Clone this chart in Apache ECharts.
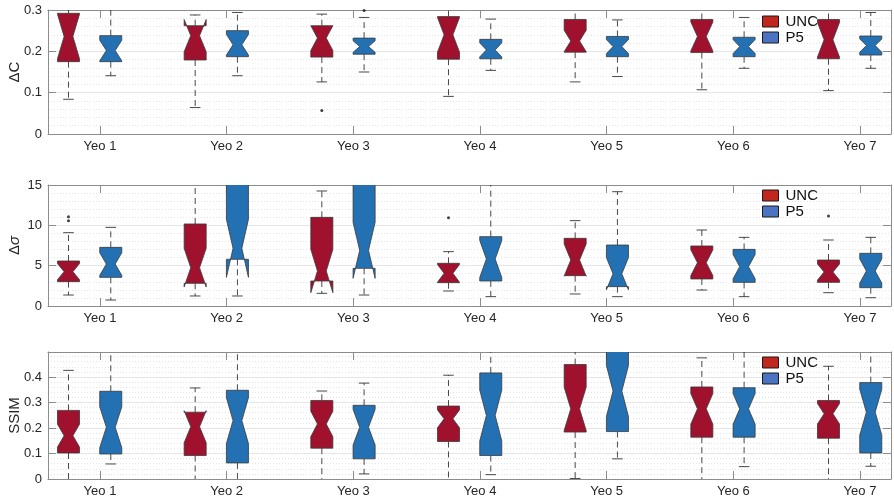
<!DOCTYPE html>
<html>
<head>
<meta charset="utf-8">
<script src="https://cdn.jsdelivr.net/npm/echarts@6/dist/echarts.min.js"></script>
<style>
  html, body { margin: 0; padding: 0; background: #fff; }
  #chart { width: 894px; height: 500px; }
</style>
</head>
<body>
<div id="chart"></div>
<script>
// Network labels along every x axis
const yeoNames = ['Yeo 1', 'Yeo 2', 'Yeo 3', 'Yeo 4', 'Yeo 5', 'Yeo 6', 'Yeo 7'];
const groupNames = ['UNC', 'P5'];

// Box statistics per network, one row each:
// [lower whisker, Q1, median, Q3, upper whisker, notch half-width]
const deltaC_UNC = [
  [0.084, 0.175, 0.236, 0.292, 0.310, 0.054],
  [0.064, 0.179, 0.238, 0.262, 0.288, 0.039],
  [0.126, 0.186, 0.232, 0.262, 0.290, 0.030],
  [0.091, 0.181, 0.240, 0.284, 0.310, 0.042],
  [0.126, 0.198, 0.225, 0.277, 0.305, 0.026],
  [0.107, 0.197, 0.236, 0.277, 0.310, 0.035],
  [0.105, 0.182, 0.228, 0.277, 0.310, 0.042]
];
const deltaC_P5 = [
  [0.141, 0.175, 0.202, 0.238, 0.310, 0.025],
  [0.141, 0.187, 0.216, 0.250, 0.294, 0.025],
  [0.150, 0.193, 0.2115, 0.232, 0.282, 0.014],
  [0.154, 0.182, 0.2035, 0.229, 0.278, 0.017],
  [0.139, 0.187, 0.2115, 0.236, 0.276, 0.017],
  [0.159, 0.187, 0.2115, 0.234, 0.282, 0.017],
  [0.159, 0.191, 0.214, 0.237, 0.294, 0.016]
];
const deltaSigma_UNC = [
  [1.36, 3.02, 4.26, 5.58, 9.09, 1.0],
  [1.24, 2.81, 4.75, 10.17, 16.0, 2.4],
  [1.57, 3.10, 4.34, 10.99, 14.26, 2.69],
  [1.86, 2.89, 4.05, 5.29, 6.74, 1.1],
  [1.49, 3.76, 5.70, 8.39, 10.58, 2.0],
  [1.98, 3.35, 5.37, 7.44, 9.42, 1.6],
  [1.65, 2.93, 4.21, 5.70, 8.18, 1.0]
];
const deltaSigma_P5 = [
  [0.74, 3.55, 5.20, 7.27, 9.75, 1.4],
  [1.24, 5.79, 7.15, 18.0, 30.0, 3.6],
  [1.36, 4.67, 6.90, 18.0, 30.0, 3.47],
  [1.16, 3.10, 5.83, 8.60, 16.0, 2.3],
  [1.16, 2.40, 4.00, 7.56, 14.17, 2.0],
  [1.16, 2.93, 4.88, 7.02, 8.51, 1.5],
  [1.03, 2.27, 4.34, 6.53, 8.51, 1.5]
];
const ssim_UNC = [
  [-0.01, 0.102, 0.170, 0.269, 0.426, 0.045],
  [-0.01, 0.092, 0.205, 0.262, 0.357, 0.063],
  [-0.01, 0.121, 0.216, 0.308, 0.345, 0.050],
  [-0.01, 0.147, 0.236, 0.286, 0.407, 0.035],
  [0.002, 0.184, 0.275, 0.449, 0.550, 0.085],
  [-0.01, 0.164, 0.275, 0.361, 0.475, 0.060],
  [-0.01, 0.160, 0.256, 0.308, 0.442, 0.040]
];
const ssim_P5 = [
  [0.059, 0.098, 0.203, 0.344, 0.550, 0.080],
  [-0.01, 0.063, 0.229, 0.348, 0.550, 0.090],
  [0.020, 0.079, 0.203, 0.289, 0.376, 0.070],
  [0.017, 0.092, 0.249, 0.416, 0.550, 0.100],
  [0.079, 0.186, 0.345, 0.600, 0.800, 0.100],
  [0.0485, 0.164, 0.275, 0.358, 0.550, 0.060],
  [0.050, 0.102, 0.262, 0.378, 0.550, 0.090]
];

// Outliers: [network number, value]
const deltaC_UNC_out = [[3, 0.057]];
const deltaC_P5_out = [[3, 0.299]];
const deltaSigma_UNC_out = [[1, 11.07], [1, 10.58], [4, 10.95], [7, 11.16]];
const deltaSigma_P5_out = [];
const ssim_UNC_out = [];
const ssim_P5_out = [];

// Y axis ranges and tick steps per panel
const panelNames = ['ΔC', '{d|Δ}{s|σ}', 'SSIM'];
const yMin = [0, 0, 0];
const yMax = [0.3, 15, 0.498];
const yStep = [0.1, 5, 0.1];

// Layout / styling
const X_MIN = 0.5895, X_MAX = 7.2447;
const OFFSET_UNC = -0.2487, OFFSET_P5 = 0.085;
const BOX_W = 0.174;
const COLOR_UNC = '#A0112E', COLOR_P5 = '#2371B3';
const AXIS_COLOR = '#8c8c8c', TEXT_COLOR = '#262626';
const FONT = '"Liberation Sans", Arial, Helvetica, sans-serif';
const gridTops = [10, 185, 352];
const gridHeights = [124, 121, 127];
const legendTops = [14, 188, 355];
const tickVals = [1, 2, 3, 4, 5, 6, 7];

function boxItems(rows, offset) {
  return rows.map((r, i) => [i + 1 + offset, r[0], r[1], r[2], r[3], r[4], r[5]]);
}
function outlierItems(rows, offset) {
  return rows.map(r => [r[0] + offset, r[1]]);
}

// Notched box with dashed whiskers and solid caps
function renderBox(params, api) {
  const x = api.value(0);
  const lo = api.value(1), q1 = api.value(2), med = api.value(3);
  const q3 = api.value(4), hi = api.value(5), nh = api.value(6);
  const y = v => api.coord([x, v])[1];
  const cx = api.coord([x, med])[0];
  const w = api.size([BOX_W, 0])[0];
  const L = cx - w / 2, R = cx + w / 2, ind = w * 0.3;
  const capH = w * 0.24;
  const dashStyle = { stroke: '#333', lineWidth: 0.9, lineDash: [6, 4], fill: null };
  const capStyle = { stroke: '#333', lineWidth: 0.9, fill: null };
  const nLo = med - nh, nHi = med + nh;
  return {
    type: 'group',
    children: [
      { type: 'line', shape: { x1: cx, y1: y(q3), x2: cx, y2: y(hi) }, style: dashStyle },
      { type: 'line', shape: { x1: cx, y1: y(q1), x2: cx, y2: y(lo) }, style: dashStyle },
      { type: 'line', shape: { x1: cx - capH, y1: y(hi), x2: cx + capH, y2: y(hi) }, style: capStyle },
      { type: 'line', shape: { x1: cx - capH, y1: y(lo), x2: cx + capH, y2: y(lo) }, style: capStyle },
      {
        type: 'polygon',
        shape: {
          points: [
            [L, y(q1)], [L, y(nLo)], [L + ind, y(med)], [L, y(nHi)], [L, y(q3)],
            [R, y(q3)], [R, y(nHi)], [R - ind, y(med)], [R, y(nLo)], [R, y(q1)]
          ]
        },
        style: { fill: api.visual('color'), stroke: '#3a3a3a', lineWidth: 0.8 }
      }
    ]
  };
}

const panelBoxes = [
  [deltaC_UNC, deltaC_P5],
  [deltaSigma_UNC, deltaSigma_P5],
  [ssim_UNC, ssim_P5]
];
const panelOutliers = [
  [deltaC_UNC_out, deltaC_P5_out],
  [deltaSigma_UNC_out, deltaSigma_P5_out],
  [ssim_UNC_out, ssim_P5_out]
];

const grids = [], xAxes = [], yAxes = [], series = [], legends = [];

for (let g = 0; g < 3; g++) {
  grids.push({
    left: 48, right: 3, top: gridTops[g], height: gridHeights[g],
    containLabel: false, outerBoundsMode: 'none'
  });

  const xCommon = {
    gridIndex: g, type: 'value', min: X_MIN, max: X_MAX,
    axisLine: { show: true, onZero: false, lineStyle: { color: AXIS_COLOR, width: 1 } },
    axisTick: { show: true, inside: true, length: 8, customValues: tickVals, lineStyle: { color: AXIS_COLOR } },
    splitLine: { show: false }
  };
  xAxes.push(Object.assign({}, xCommon, {
    position: 'bottom',
    axisLabel: {
      customValues: tickVals, margin: 6, color: TEXT_COLOR, fontSize: 13, fontFamily: FONT,
      formatter: v => yeoNames[Math.round(v) - 1]
    }
  }));
  xAxes.push(Object.assign({}, xCommon, { position: 'top', axisLabel: { show: false } }));

  const yCommon = {
    gridIndex: g, type: 'value', min: yMin[g], max: yMax[g], interval: yStep[g],
    axisLine: { show: true, onZero: false, lineStyle: { color: AXIS_COLOR, width: 1 } },
    axisTick: { show: true, inside: true, length: 8, lineStyle: { color: AXIS_COLOR } }
  };
  yAxes.push(Object.assign({}, yCommon, {
    position: 'left',
    name: panelNames[g], nameLocation: 'middle', nameGap: 26, nameMoveOverlap: false,
    nameTextStyle: {
      color: TEXT_COLOR, fontSize: 15, fontFamily: FONT,
      rich: {
        d: { fontSize: 15, fontFamily: FONT, color: TEXT_COLOR },
        s: { fontSize: 15, fontFamily: FONT, color: TEXT_COLOR, fontStyle: 'italic' }
      }
    },
    axisLabel: {
      margin: 6, color: TEXT_COLOR, fontSize: 13, fontFamily: FONT,
      showMaxLabel: g !== 2,
      formatter: v => String(Math.round(v * 1000) / 1000)
    },
    splitLine: { show: true, lineStyle: { color: '#e6e6e6', width: 1 } },
    minorTick: { show: false, splitNumber: 5 },
    minorSplitLine: { show: true, lineStyle: { color: '#e4e4e4', width: 1, type: [1, 2] } }
  }));
  yAxes.push(Object.assign({}, yCommon, {
    position: 'right', axisLabel: { show: false }, splitLine: { show: false }
  }));

  const offsets = [OFFSET_UNC, OFFSET_P5];
  const colors = [COLOR_UNC, COLOR_P5];
  for (let s = 0; s < 2; s++) {
    series.push({
      type: 'custom', name: groupNames[s],
      xAxisIndex: 2 * g, yAxisIndex: 2 * g,
      clip: true,
      itemStyle: { color: colors[s] },
      renderItem: renderBox,
      encode: { x: 0, y: [2, 3, 4] },
      data: boxItems(panelBoxes[g][s], offsets[s]),
      silent: true
    });
    series.push({
      type: 'scatter', name: groupNames[s] + ' outliers',
      xAxisIndex: 2 * g, yAxisIndex: 2 * g,
      symbolSize: 3, itemStyle: { color: '#111' },
      data: outlierItems(panelOutliers[g][s], offsets[s]),
      silent: true
    });
  }

  legends.push({
    left: 762, top: legendTops[g], orient: 'vertical', padding: 0,
    itemWidth: 16, itemHeight: 11, itemGap: 1, selectedMode: false, icon: 'rect',
    textStyle: { fontSize: 15, fontFamily: FONT, color: '#111', lineHeight: 13, padding: [0, 0, 0, 2] },
    data: [
      { name: 'UNC', itemStyle: { color: '#C3261C', borderColor: '#1a1a1a', borderWidth: 1 } },
      { name: 'P5', itemStyle: { color: '#4A74C2', borderColor: '#1a1a1a', borderWidth: 1 } }
    ]
  });
}

const chart = echarts.init(document.getElementById('chart'), null, { renderer: 'canvas' });
chart.setOption({
  animation: false,
  backgroundColor: '#ffffff',
  grid: grids,
  xAxis: xAxes,
  yAxis: yAxes,
  legend: legends,
  series: series
});
</script>
</body>
</html>
